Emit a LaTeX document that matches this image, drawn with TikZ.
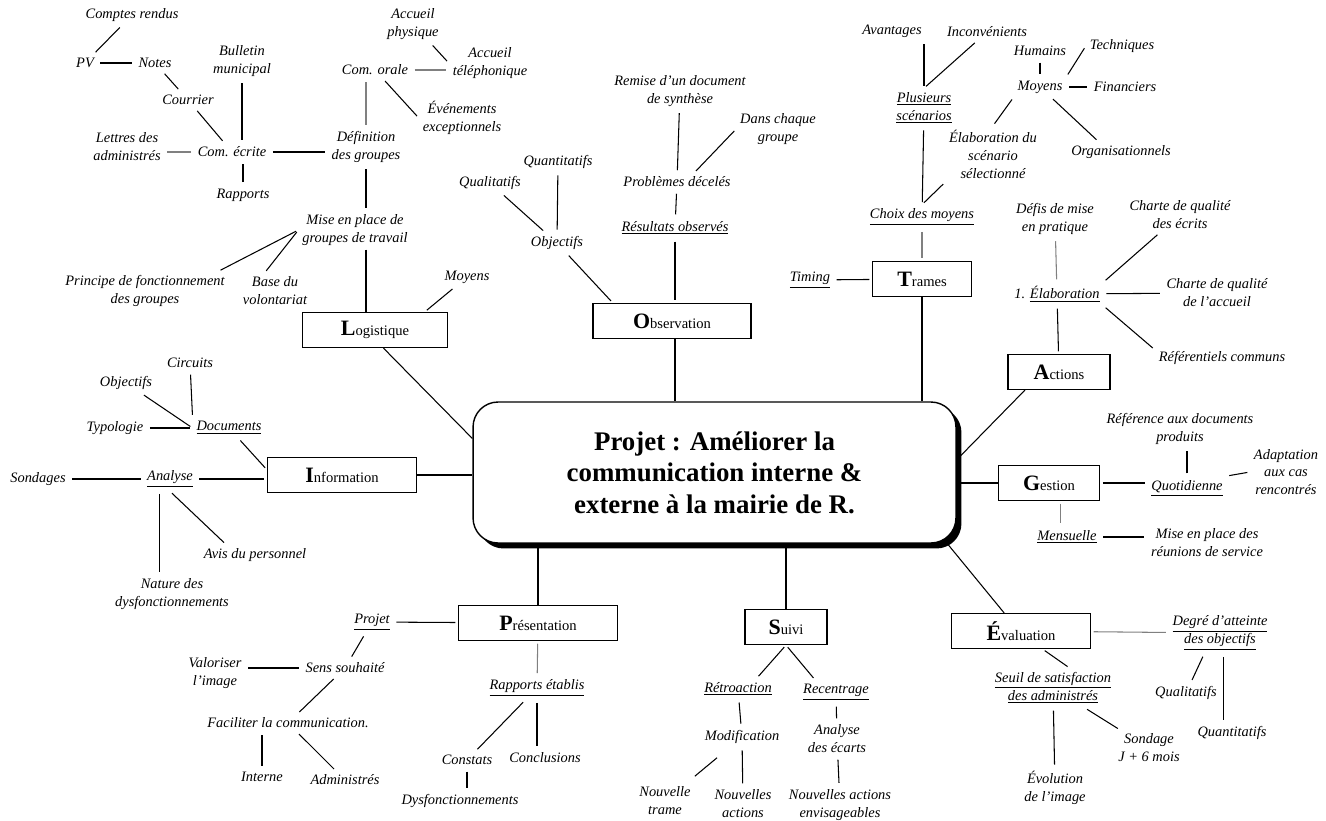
\documentclass[tikz,border=0pt]{standalone}
\usepackage{fontspec}
\setmainfont{Liberation Serif}
\usetikzlibrary{shadows}
\newcommand{\lettre}[2]{{\fontsize{12.5}{13}\selectfont\bfseries #1}{\fontsize{8.3}{10}\selectfont #2}}

\begin{document}
\begin{tikzpicture}[x=0.02cm,y=-0.02cm,line width=0.6pt,
  feuille/.style={font=\itshape\fontsize{8.2}{10.2}\selectfont,align=center,inner sep=2pt},
  theme/.style={draw,minimum height=0.7cm,inner sep=0pt,line width=0.7pt},
  lien/.style={shorten <=1.5pt,shorten >=1.5pt},
  pale/.style={lien,draw=black!50}]
\useasboundingbox (0,0) rectangle (1326,821);

\node[draw,line width=0.8pt,rounded corners=0.5cm,minimum width=9.66cm,minimum height=2.82cm,fill=white,
  drop shadow={shadow xshift=0.11cm,shadow yshift=-0.11cm,fill=black,opacity=1},
  font=\bfseries\fontsize{15.3}{17.9}\selectfont,align=center] (projet) at (714.5,472.5)
  {Projet : Améliorer la\\communication interne \&\\externe à la mairie de R.};

\node[theme,minimum width=2.9cm] (logistique) at (375,330) {\lettre{L}{ogistique}};
\node[theme,minimum width=2.98cm] (information) at (342,475) {\lettre{I}{nformation}};
\node[theme,minimum width=3.16cm] (observation) at (672,321) {\lettre{O}{bservation}};
\node[theme,minimum width=1.98cm] (trames) at (922,279) {\lettre{T}{rames}};
\node[theme,minimum width=2.04cm] (actions) at (1059,372) {\lettre{A}{ctions}};
\node[theme,minimum width=2.02cm] (gestion) at (1049,483) {\lettre{G}{estion}};
\node[theme,minimum width=2.78cm] (evaluation) at (1021,631) {\lettre{É}{valuation}};
\node[theme,minimum width=1.64cm] (suivi) at (786,627) {\lettre{S}{uivi}};
\node[theme,minimum width=3.18cm] (presentation) at (538,623) {\lettre{P}{résentation}};

\node[feuille] (comptes) at (132,15) {Comptes rendus};
\node[feuille] (pv) at (85,63) {PV};
\node[feuille] (notes) at (155,63) {Notes};
\node[feuille] (courrier) at (188,100) {Courrier};
\node[feuille] (bulletin) at (242,61) {Bulletin\\municipal};
\node[feuille] (comecrite) at (232,152) {Com. écrite};
\node[feuille] (lettres) at (127,147) {Lettres des\\administrés};
\node[feuille] (rapports) at (243,195) {Rapports};
\node[feuille] (definition) at (366,147) {Définition\\des groupes};
\node[feuille] (comorale) at (375,70) {Com. orale};
\node[feuille] (accphys) at (413,24) {Accueil\\physique};
\node[feuille] (acctel) at (490,63) {Accueil\\téléphonique};
\node[feuille] (evenements) at (462,118) {Événements\\exceptionnels};
\node[feuille] (miseenplace) at (355,230) {Mise en place de\\groupes de travail};
\node[feuille] (principe) at (145,291) {Principe de fonctionnement\\des groupes};
\node[feuille] (basevol) at (275,291) {Base du\\volontariat};
\node[feuille] (moyensl) at (467,277) {Moyens};

\node[feuille] (quantobs) at (558,162) {Quantitatifs};
\node[feuille] (qualobs) at (490,183) {Qualitatifs};
\node[feuille] (objobs) at (557,243) {Objectifs};
\node[feuille] (remise) at (680,91) {Remise d'un document\\de synthèse};
\node[feuille] (danschaque) at (778,129) {Dans chaque\\groupe};
\node[feuille] (problemes) at (677,182) {Problèmes décelés};
\node[feuille] (resultats) at (675,228) {\underline{Résultats observés}};

\node[feuille] (avantages) at (892,31) {Avantages};
\node[feuille] (inconv) at (987,32) {Inconvénients};
\node[feuille] (plusieurs) at (924,108) {\underline{Plusieurs}\\\underline{scénarios}};
\node[feuille] (choix) at (922,217) {\underline{Choix des moyens}};
\node[feuille] (elabscen) at (993,154) {Élaboration du\\scénario\\sélectionné};
\node[feuille] (moyenst) at (1040,87) {Moyens};
\node[feuille] (humains) at (1040,51) {Humains};
\node[feuille] (techniques) at (1122,46) {Techniques};
\node[feuille] (financiers) at (1125,87) {Financiers};
\node[feuille] (organis) at (1121,152) {Organisationnels};
\node[feuille] (timing) at (810,280) {\underline{Timing}};

\node[feuille] (defis) at (1055,219) {Défis de mise\\en pratique};
\node[feuille] (charteecr) at (1180,215) {Charte de qualité\\des écrits};
\node[feuille] (elaboration) at (1057,294) {1. \underline{Élaboration}};
\node[feuille] (charteacc) at (1217,293) {Charte de qualité\\de l'accueil};
\node[feuille] (referentiels) at (1222,358) {Référentiels communs};

\node[feuille] (reference) at (1180,429) {Référence aux documents\\produits};
\node[feuille] (quotidienne) at (1187,488) {\underline{Quotidienne}};
\node[feuille] (adaptation) at (1286,472) {Adaptation\\aux cas\\rencontrés};
\node[feuille] (mensuelle) at (1067,537) {\underline{Mensuelle}};
\node[feuille] (reunions) at (1207,543) {Mise en place des\\réunions de service};

\node[feuille] (degre) at (1220,633) {\underline{Degré d'atteinte}\\\underline{des objectifs}};
\node[feuille] (qualeval) at (1186,693) {Qualitatifs};
\node[feuille] (quanteval) at (1232,733) {Quantitatifs};
\node[feuille] (seuil) at (1053,688) {\underline{Seuil de satisfaction}\\\underline{des administrés}};
\node[feuille] (sondage) at (1149,748) {Sondage\\J + 6 mois};
\node[feuille] (evolution) at (1055,788) {Évolution\\de l'image};

\node[feuille] (retro) at (738,689) {\underline{Rétroaction}};
\node[feuille] (recentr) at (836,692) {\underline{Recentrage}};
\node[feuille] (modif) at (742,737) {Modification};
\node[feuille] (nouvtrame) at (665,801) {Nouvelle\\trame};
\node[feuille] (nouvact) at (743,804) {Nouvelles\\actions};
\node[feuille] (analyseec) at (837,739) {Analyse\\des écarts};
\node[feuille] (nouvenv) at (840,805) {Nouvelles actions\\envisageables};

\node[feuille] (rapetab) at (537,688) {\underline{Rapports établis}};
\node[feuille] (constats) at (467,760) {Constats};
\node[feuille] (conclusions) at (545,758) {Conclusions};
\node[feuille] (dysf) at (460,801) {Dysfonctionnements};
\node[feuille] (projetp) at (372,622) {\underline{Projet}};
\node[feuille] (sens) at (345,668) {Sens souhaité};
\node[feuille] (valoriser) at (215,673) {Valoriser\\l'image};
\node[feuille] (faciliter) at (288,723) {Faciliter la communication.};
\node[feuille] (interne) at (262,777) {Interne};
\node[feuille] (administres) at (345,780) {Administrés};

\node[feuille] (circuits) at (190,363) {Circuits};
\node[feuille] (objinfo) at (126,383) {Objectifs};
\node[feuille] (typologie) at (115,428) {Typologie};
\node[feuille] (documents) at (229,428) {\underline{Documents}};
\node[feuille] (sondages) at (38,479) {Sondages};
\node[feuille] (analyse) at (170,479) {\underline{Analyse}};
\node[feuille] (avis) at (255,555) {Avis du personnel};
\node[feuille] (nature) at (172,594) {Nature des\\dysfonctionnements};

\draw[lien] (comptes) -- (pv);
\draw[lien] (pv) -- (notes);
\draw[lien] (notes) -- (courrier);
\draw[lien] (bulletin) -- (bulletin |- comecrite.north);
\draw[lien] (courrier) -- (comecrite);
\draw[pale] (comecrite.west) -- (comecrite.west -| lettres.east);
\draw[lien] (rapports) -- (rapports |- comecrite.south);
\draw[lien] (comecrite.east) -- (comecrite.east -| definition.west);
\draw[pale] (definition.north) -- (definition.north |- comorale.south);
\draw[pale] (comorale.east) -- (comorale.east -| acctel.west);
\draw[lien] (accphys) -- (acctel.west);
\draw[lien] (comorale) -- (evenements.west);
\draw[lien] (definition.south) -- (definition.south |- miseenplace.north);
\draw[lien] (principe.15) -- (miseenplace.west);
\draw[lien] (basevol.120) -- (miseenplace.west);
\draw (miseenplace.south -| definition) -- (logistique.north -| definition);
\draw[lien] (moyensl) -- (logistique.20);
\draw (logistique.-65) -- (projet.172);

\draw[lien] (quantobs) -- (objobs);
\draw[lien] (qualobs) -- (objobs);
\draw[lien] (objobs) -- (observation.163);
\draw[lien] (remise) -- (problemes);
\draw[lien] (danschaque.west) -- (problemes.28);
\draw[lien] (problemes) -- (resultats);
\draw[lien] (resultats) -- (resultats |- observation.north);
\draw (resultats |- observation.south) -- (resultats |- projet.north);

\draw[lien] (plusieurs.north) -- (plusieurs.north |- avantages.south);
\draw[lien] (inconv) -- (plusieurs.north);
\draw[lien] (plusieurs) -- (choix);
\draw[lien] (elabscen.south west) -- (choix.north);
\draw[lien] (moyenst.south west) -- (elabscen.north);
\draw[lien] (humains) -- (moyenst);
\draw[lien] (techniques.west) -- (moyenst.north east);
\draw[lien] (moyenst) -- (financiers);
\draw[lien] (moyenst) -- (organis.155);
\draw[pale] (choix) -- (trames);
\draw[lien] (timing) -- (trames);
\draw (trames) -- (trames |- projet.north);

\draw[pale] (defis) -- (elaboration);
\draw[lien] (charteecr) -- (elaboration.north east);
\draw[lien] (elaboration) -- (charteacc);
\draw[lien] (elaboration.south east) -- (referentiels.173);
\draw[lien] (elaboration) -- (actions);
\draw (actions.208) -- (projet.3);

\draw[lien] (quotidienne) -- (quotidienne |- reference.south);
\draw[lien] (gestion.east) -- (gestion.east -| quotidienne.west);
\draw[lien] (quotidienne.north east) -- (adaptation.west);
\draw[pale] (gestion.-57) -- (gestion.-57 |- mensuelle.north);
\draw[lien] (mensuelle.east) -- (mensuelle.east -| reunions.west);
\draw (gestion.west) -- (gestion.west -| projet.east);

\draw[pale] (evaluation) -- (degre);
\draw[lien] (degre.-127) -- (qualeval);
\draw[lien] (degre.-80) -- (degre.-80 |- quanteval.north);
\draw[lien] (evaluation.-40) -- (seuil.50);
\draw[lien] (seuil) -- (sondage);
\draw[lien] (seuil) -- (evolution);
\draw (projet.-17) -- (evaluation.133);

\draw[lien] (suivi.south) -- (retro.30);
\draw[lien] (suivi.south) -- (recentr.150);
\draw[lien] (retro) -- (modif);
\draw[lien,shorten <=9pt,shorten >=6pt] (modif) -- (nouvtrame);
\draw[lien] (modif) -- (nouvact);
\draw[lien] (recentr) -- (analyseec);
\draw[lien] (analyseec) -- (nouvenv);
\draw (suivi) -- (suivi |- projet.south);

\draw[pale] (presentation) -- (rapetab);
\draw[lien] (rapetab) -- (constats);
\draw[lien] (rapetab) -- (rapetab |- conclusions.north);
\draw[lien] (constats) -- (constats |- dysf.north);
\draw[lien] (projetp) -- (presentation);
\draw[lien] (projetp) -- (sens);
\draw[lien] (sens.west) -- (sens.west -| valoriser.east);
\draw[lien] (sens) -- (faciliter);
\draw[lien] (interne) -- (interne |- faciliter.south);
\draw[lien] (faciliter) -- (administres);
\draw (presentation) -- (presentation |- projet.south);

\draw[lien] (circuits) -- (documents.north west);
\draw[lien] (objinfo) -- (documents.west);
\draw[lien] (typologie) -- (documents);
\draw[lien] (documents) -- (information.176);
\draw[lien] (sondages) -- (analyse);
\draw[lien] (analyse.east) -- (analyse.east -| information.west);
\draw[lien] (analyse.-130) -- (analyse.-130 |- nature.north);
\draw[lien] (analyse.south) -- (avis.160);
\draw (information.east) -- (information.east -| projet.west);
\end{tikzpicture}
\end{document}
